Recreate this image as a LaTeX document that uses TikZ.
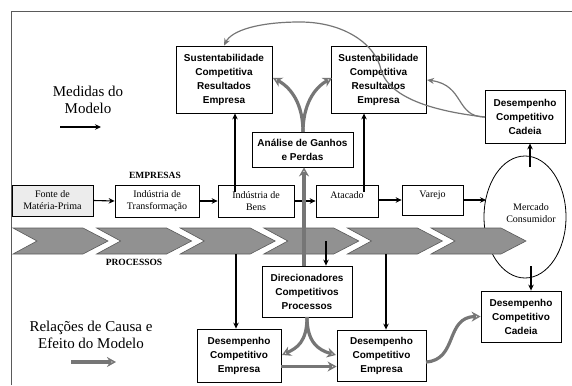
\documentclass[tikz,border=0pt]{standalone}
\usepackage{fontspec}
\setmainfont{Liberation Serif}
\newfontfamily\arialf{Liberation Sans}
\usetikzlibrary{arrows.meta,shapes.geometric,calc}
\definecolor{gline}{RGB}{118,118,118}
\definecolor{chevfill}{RGB}{145,145,145}
\definecolor{chevline}{RGB}{90,90,90}
\definecolor{fontefill}{RGB}{236,236,236}
\tikzset{
  bbox/.style={draw, line width=0.8pt, fill=white, align=center, inner sep=0pt,
    font=\arialf\bfseries\fontsize{10}{14}\selectfont},
  sbox/.style={draw, line width=0.7pt, align=center, inner sep=0pt,
    font=\fontsize{10}{12}\selectfont},
  blk/.style={line width=1.1pt, -{Stealth[length=6pt,width=5.5pt]}},
  gthick/.style={draw=gline, line width=3.2pt, -{Stealth[length=9pt,width=10pt,open,line width=1.4pt,fill=white]}},
  gthin/.style={draw=gline, line width=1.2pt, -{Stealth[length=7pt,width=6pt]}},
  chev/.style={fill=chevfill, draw=chevline, line width=0.6pt},
  lbl/.style={align=center, font=\fontsize{15}{17}\selectfont},
}
\begin{document}
\begin{tikzpicture}[x=1pt,y=-1pt]
\useasboundingbox (0,0) rectangle (572,385);
% frame
\draw[draw=chevline, line width=1pt] (11,385) -- (11,12) -- (572,12);

% labels
\node[lbl] (medidas) at (88,100) {Medidas do\\Modelo};
\coordinate (ma1) at (60,127);
\coordinate (ma2) at (101,127);
\draw[blk] (ma1) -- (ma2);
\node[lbl] (relacoes) at (91,335) {Relações de Causa e\\Efeito do Modelo};
\coordinate (ra1) at (71,362);
\coordinate (ra2) at (116,362);
\draw[gthick] (ra1) -- (ra2);
\node[font=\bfseries\fontsize{9.5}{11}\selectfont] (empresas) at (155,175) {EMPRESAS};
\node[font=\bfseries\fontsize{9.5}{11}\selectfont] (processos) at (134,262) {PROCESSOS};

% top boxes
\node[bbox, minimum width=96pt, minimum height=67pt] (sust1) at (224,79.5) {Sustentabilidade\\Competitiva\\Resultados\\Empresa};
\node[bbox, minimum width=95pt, minimum height=67pt] (sust2) at (378.5,79.5) {Sustentabilidade\\Competitiva\\Resultados\\Empresa};
\node[bbox, minimum width=80pt, minimum height=53pt] (cadT) at (525,116.5) {Desempenho\\Competitivo\\Cadeia};
\node[bbox, minimum width=101pt, minimum height=35pt] (anal) at (302.5,149.5) {Análise de Ganhos\\e Perdas};

% company row
\node[sbox, fill=fontefill, minimum width=81pt, minimum height=31pt] (fonte) at (52.5,200.5) {Fonte de\\Matéria-Prima};
\node[sbox, minimum width=84pt, minimum height=32pt] (transf) at (157,201) {Indústria de\\Transformação};
\node[sbox, minimum width=76pt, minimum height=32pt] (bens) at (256,201) {Indústria de\\Bens};
\node[sbox, minimum width=62pt, minimum height=32pt] (atac) at (347,201) {Atacado\\~};
\node[sbox, minimum width=61pt, minimum height=30pt] (varejo) at (432.5,200) {Varejo\\~};
\node[draw, line width=0.8pt, ellipse, minimum width=82pt, minimum height=122pt, inner sep=0pt] (merc) at (525,217) {};
\node[font=\fontsize{10}{12}\selectfont, align=center] (merctxt) at (531,213) {Mercado\\Consumidor};

% chevrons
\foreach \i in {0,...,5} {
  \pgfmathsetmacro\xo{13+83.6*\i}
  \filldraw[chev] (\xo,228) -- ++(70,0) -- ++(25,13) -- ++(-25,13) -- ++(-70,0) -- ++(24,-13) -- cycle;
}

% bottom boxes
\node[bbox, minimum width=90pt, minimum height=51pt] (direc) at (307,291.5) {Direcionadores\\Competitivos\\Processos};
\node[bbox, minimum width=84pt, minimum height=53pt] (dempL) at (239,355.5) {Desempenho\\Competitivo\\Empresa};
\node[bbox, minimum width=89pt, minimum height=51pt] (dempR) at (381.5,355.5) {Desempenho\\Competitivo\\Empresa};
\node[bbox, minimum width=80pt, minimum height=51pt] (cadB) at (521,316.5) {Desempenho\\Competitivo\\Cadeia};

% company row arrows
\coordinate (mercin) at (486,200);
\draw[blk] (fonte.east) -- (transf.west);
\draw[blk] (transf.east) -- (bens.west);
\draw[blk] (bens.east) -- (atac.west);
\draw[blk] (atac.east |- varejo.west) -- (varejo.west);
\draw[blk] (varejo.east) -- (mercin);

% vertical black arrows
\coordinate (bensin) at (235,192);
\draw[blk] (bensin) -- (bensin |- sust1.south);
\coordinate (atacin) at (364,192);
\draw[blk] (atacin) -- (atacin |- sust2.south);
\coordinate (merctop) at (530,167);
\draw[blk] (merctop) -- (merctop |- cadT.south);
\coordinate (mercbot) at (531,266);
\draw[blk] (mercbot) -- (mercbot |- cadB.north);
\coordinate (chevL) at (236,254);
\draw[blk] (chevL) -- (chevL |- dempL.north);
\coordinate (chevR) at (386,254);
\draw[blk] (chevR) -- (chevR |- dempR.north);
\coordinate (chevM) at (326,241);
\draw[blk] (chevM) -- (chevM |- direc.north);

% gray stem direc -> anal
\coordinate (stem) at (304,266);
\draw[gthick] (stem) -- (stem |- anal.south);

% anal split
\coordinate (aTop) at (303,132);
\coordinate (aL) at (273,78);
\coordinate (aR) at (332,78);
\draw[gthick] (aTop) .. controls (303,105) and (292,88) .. (aL);
\draw[gthick] (aTop) .. controls (303,105) and (314,88) .. (aR);

% direc split
\coordinate (dBot) at (307,317);
\coordinate (dL) at (282,355);
\coordinate (dR) at (336,355);
\draw[gthick] (dBot) .. controls (307,342) and (297,348) .. (dL);
\draw[gthick] (dBot) .. controls (307,342) and (318,350) .. (dR);
\draw[gthick] ($(dempL.east)+(0,11)$) -- ($(dempR.west)+(0,11)$);

% S curve to cadeia
\coordinate (sStart) at (426,362);
\draw[gthick] (sStart) .. controls (458,360) and (445,317) .. (cadB.west);

% thin gray curves
\coordinate (cT) at (485,117);
\coordinate (s2r) at (427,80);
\draw[gthin] (cT) .. controls (455,117) and (465,85) .. (s2r);
\draw[gthin] (cT) .. controls (440,112) and (390,100) .. (381,70) .. controls (376,45) and (345,22) .. (300,22) .. controls (260,22) and (232,30) .. (sust1.north);
\end{tikzpicture}
\end{document}
